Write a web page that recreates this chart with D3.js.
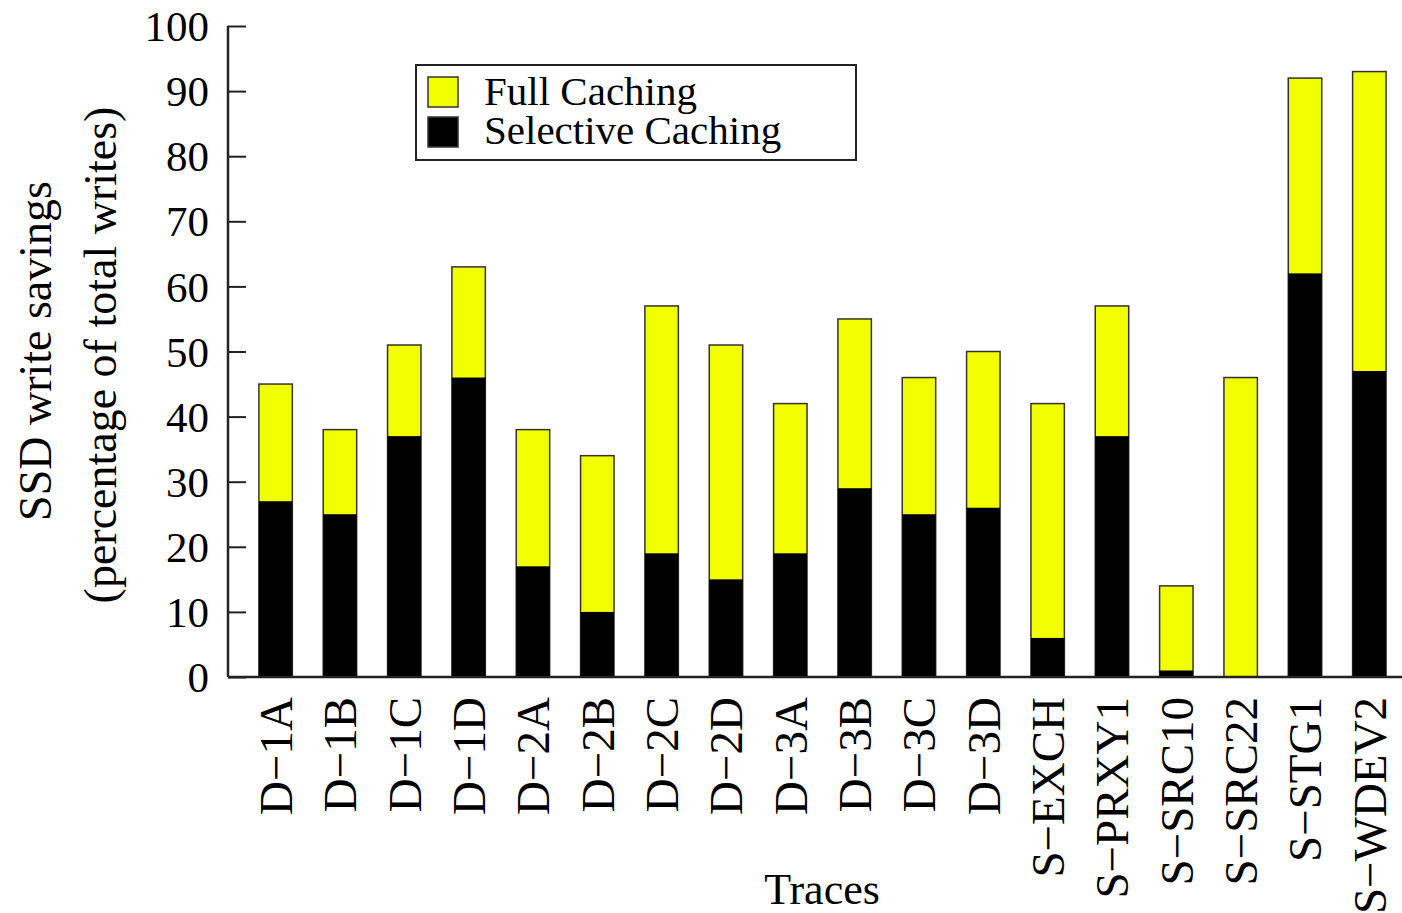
<!DOCTYPE html>
<html>
<head>
<meta charset="utf-8">
<script src="https://cdn.jsdelivr.net/npm/d3@7"></script>
<style>
  body { margin: 0; background: #fff; }
  text { font-family: "Liberation Serif", "Times New Roman", serif; fill: #000; }
</style>
</head>
<body>
<svg class="chart" width="1402" height="913"></svg>
<script>
const traces = ["D−1A", "D−1B", "D−1C", "D−1D", "D−2A", "D−2B", "D−2C", "D−2D", "D−3A",
  "D−3B", "D−3C", "D−3D", "S−EXCH", "S−PRXY1", "S−SRC10", "S−SRC22", "S−STG1", "S−WDEV2"];
const fullCaching = [45, 38, 51, 63, 38, 34, 57, 51, 42, 55, 46, 50, 42, 57, 14, 46, 92, 93];
const selectiveCaching = [27, 25, 37, 46, 17, 10, 19, 15, 19, 29, 25, 26, 6, 37, 1, 0, 62, 47];
const yTicks = [0, 10, 20, 30, 40, 50, 60, 70, 80, 90, 100];
const legendLabels = ["Full Caching", "Selective Caching"];

const yellow = "#f2ff00";
const svg = d3.select(".chart");

const x = d3.scaleLinear().domain([-0.74, 17.5]).range([228, 1401.5]);
const y = d3.scaleLinear().domain([0, 100]).range([677, 26]);
const halfW = 0.26;

const g = svg.append("g");

// full caching bars (whole height, yellow)
g.selectAll(".full")
  .data(fullCaching)
  .enter()
  .append("rect")
  .attr("class", "full")
  .attr("x", (d, i) => x(i - halfW))
  .attr("width", (d, i) => x(i + halfW) - x(i - halfW))
  .attr("y", (d) => y(d))
  .attr("height", (d) => y(0) - y(d))
  .attr("fill", yellow)
  .attr("stroke", "#333")
  .attr("stroke-width", 1.5);

// selective caching bars (black)
g.selectAll(".sel")
  .data(selectiveCaching)
  .enter()
  .append("rect")
  .attr("class", "sel")
  .attr("x", (d, i) => x(i - halfW))
  .attr("width", (d, i) => x(i + halfW) - x(i - halfW))
  .attr("y", (d) => y(d))
  .attr("height", (d) => y(0) - y(d))
  .attr("fill", "#000");

// y axis
const yAxis = d3.axisLeft(y).tickValues(yTicks).tickSize(-18).tickPadding(19);
const ya = svg.append("g").attr("transform", `translate(${x.range()[0]},0)`).call(yAxis);
ya.select(".domain").remove();
ya.selectAll(".tick line").attr("stroke", "#222").attr("stroke-width", 2);
ya.selectAll(".tick text").style("font-size", "43px").attr("dy", "0.34em");
svg.append("line")
  .attr("x1", 228).attr("x2", 228)
  .attr("y1", y(100)).attr("y2", y(0))
  .attr("stroke", "#222").attr("stroke-width", 2.5);

// x axis line
svg.append("line")
  .attr("x1", 228).attr("x2", 1402)
  .attr("y1", y(0)).attr("y2", y(0))
  .attr("stroke", "#222").attr("stroke-width", 2.5);

// x labels, rotated
svg.append("g")
  .selectAll("text")
  .data(traces)
  .enter()
  .append("text")
  .attr("transform", (d, i) => `translate(${x(i)},697) rotate(-90)`)
  .attr("text-anchor", "end")
  .attr("dy", "0.35em")
  .style("font-size", "47px")
  .text((d) => d);

// axis titles
svg.append("text")
  .attr("transform", "translate(35,351) rotate(-90)")
  .attr("text-anchor", "middle")
  .attr("dy", "0.35em")
  .style("font-size", "46px")
  .text("SSD write savings");
svg.append("text")
  .attr("transform", "translate(100,355) rotate(-90)")
  .attr("text-anchor", "middle")
  .attr("dy", "0.35em")
  .style("font-size", "46px")
  .text("(percentage of total writes)");
svg.append("text")
  .attr("x", 822)
  .attr("y", 904)
  .attr("text-anchor", "middle")
  .style("font-size", "44px")
  .text("Traces");

// legend
const legend = svg.append("g");
legend.append("rect")
  .attr("x", 416).attr("y", 65).attr("width", 440).attr("height", 95)
  .attr("fill", "#fff").attr("stroke", "#222").attr("stroke-width", 2);
const swatchColors = [yellow, "#000"];
legendLabels.forEach((lab, i) => {
  legend.append("rect")
    .attr("x", 428).attr("y", 77 + i * 40).attr("width", 30).attr("height", 30)
    .attr("fill", swatchColors[i]).attr("stroke", "#333").attr("stroke-width", 1.5);
  legend.append("text")
    .attr("x", 484).attr("y", 105 + i * 39)
    .style("font-size", "41px")
    .text(lab);
});
</script>
</body>
</html>
